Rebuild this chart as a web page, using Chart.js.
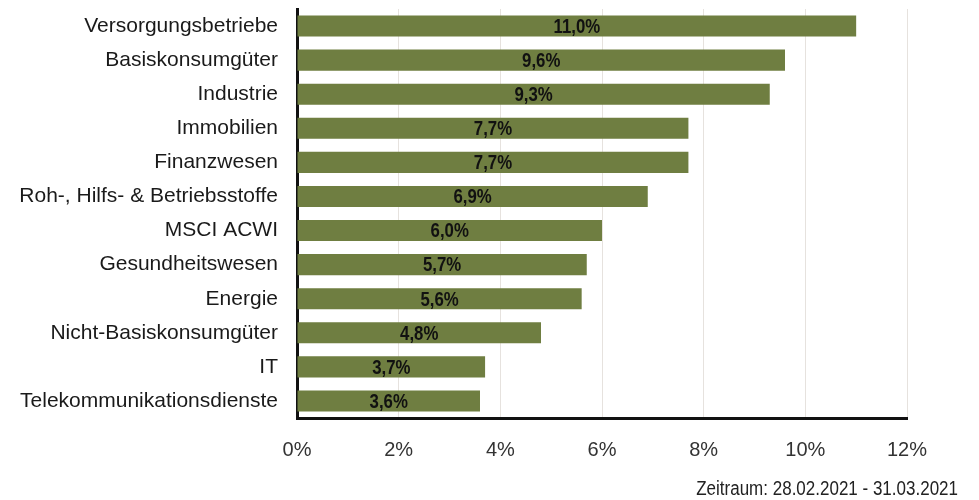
<!DOCTYPE html>
<html>
<head>
<meta charset="utf-8">
<script src="https://cdn.jsdelivr.net/npm/chart.js@4/dist/chart.umd.min.js"></script>
<style>
    body { margin: 0; background: #fff; }
    #wrap { position: relative; width: 979px; height: 500px; }
</style>
</head>
<body>
<div id="wrap"><canvas id="sectorChart"></canvas></div>
<script>
const sectors = [
    "Versorgungsbetriebe",
    "Basiskonsumgüter",
    "Industrie",
    "Immobilien",
    "Finanzwesen",
    "Roh-, Hilfs- & Betriebsstoffe",
    "MSCI ACWI",
    "Gesundheitswesen",
    "Energie",
    "Nicht-Basiskonsumgüter",
    "IT",
    "Telekommunikationsdienste"
];
const performance = [11.0, 9.6, 9.3, 7.7, 7.7, 6.9, 6.0, 5.7, 5.6, 4.8, 3.7, 3.6];
const xTicks = [0, 2, 4, 6, 8, 10, 12];
const footnote = "Zeitraum: 28.02.2021 - 31.03.2021";

const sansFont = '"Liberation Sans", Arial, sans-serif';

// no narrow font installed, so squeeze the text horizontally
function narrowText(ctx, txt, x, y, squeeze) {
    ctx.save();
    ctx.translate(x, y);
    ctx.scale(squeeze, 1);
    ctx.fillText(txt, 0, 0);
    ctx.restore();
}

// value labels in the middle of each bar + footnote
const barLabels = {
    id: 'barLabels',
    afterDatasetsDraw(chart) {
        const ctx = chart.ctx;
        const meta = chart.getDatasetMeta(0);
        ctx.save();
        ctx.font = 'bold 21px ' + sansFont;
        ctx.fillStyle = '#111';
        ctx.textAlign = 'center';
        ctx.textBaseline = 'middle';
        meta.data.forEach((bar, i) => {
            const txt = performance[i].toFixed(1).replace('.', ',') + '%';
            narrowText(ctx, txt, (bar.base + bar.x) / 2, bar.y + 1, 0.8);
        });
        ctx.font = '20px ' + sansFont;
        ctx.fillStyle = '#222';
        ctx.textAlign = 'right';
        narrowText(ctx, footnote, 958, 489, 0.85);
        ctx.restore();
    }
};

new Chart(document.getElementById('sectorChart'), {
    type: 'bar',
    data: {
        labels: sectors,
        datasets: [{
            data: performance,
            backgroundColor: '#6f7e41',
            borderWidth: 0,
            barPercentage: 0.62,
            categoryPercentage: 1
        }]
    },
    options: {
        indexAxis: 'y',
        responsive: true,
        maintainAspectRatio: false,
        animation: false,
        layout: { padding: { top: 9, right: 72, bottom: 0, left: 0 } },
        plugins: {
            legend: { display: false },
            tooltip: { enabled: false }
        },
        scales: {
            x: {
                min: 0,
                max: 12,
                afterBuildTicks: scale => {
                    scale.ticks = xTicks.map(v => ({ value: v }));
                },
                afterFit: scale => { scale.height = 82; },
                grid: { color: '#e6e2de', lineWidth: 1, drawTicks: false },
                border: { color: '#111', width: 3 },
                ticks: {
                    padding: 20,
                    color: '#333',
                    font: { family: sansFont, size: 20 },
                    callback: v => v + '%'
                }
            },
            y: {
                afterFit: scale => {
                    scale.width = 297;
                    scale.paddingTop = 0;
                    scale.paddingBottom = 0;
                },
                grid: { display: false, drawTicks: false },
                border: { color: '#111', width: 3 },
                ticks: {
                    padding: 19,
                    color: '#1a1a1a',
                    font: { family: sansFont, size: 21 }
                }
            }
        }
    },
    plugins: [barLabels]
});
</script>
</body>
</html>
